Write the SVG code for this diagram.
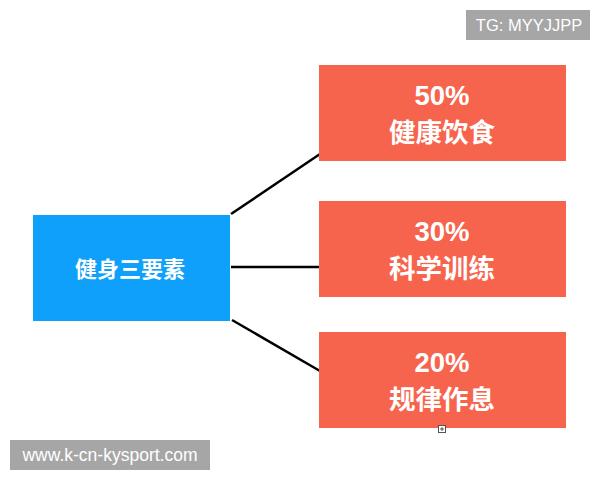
<svg xmlns="http://www.w3.org/2000/svg" width="600" height="480" viewBox="0 0 600 480">
<style>
.box{fill:#f7644d}
.t{font-family:"Liberation Sans","Noto Sans CJK SC",sans-serif;font-weight:bold;fill:#fff;text-anchor:middle}
.c{font-family:"Noto Sans CJK SC",sans-serif;font-weight:bold;fill:#fff;text-anchor:middle}
.wm{fill:#a6a6a6}
.wt{font-family:"Liberation Sans",sans-serif;fill:#fff;text-anchor:middle}
.ln{stroke:#000;stroke-width:2.5;fill:none}
</style>
<rect width="600" height="480" fill="#fff"/>
<g id="connectors">
<line class="ln" x1="231" y1="214" x2="320" y2="154"/>
<line class="ln" x1="231" y1="267" x2="320" y2="267"/>
<line class="ln" x1="232" y1="320" x2="320" y2="371"/>
</g>
<g id="root">
<rect x="33" y="215" width="197" height="106" fill="#0ea0fb"/>
<text class="c" x="130" y="277" font-size="22">健身三要素</text>
</g>
<g id="diet">
<rect class="box" x="319" y="65" width="247" height="96"/>
<text class="t" x="442" y="105" font-size="27.5">50%</text>
<text class="c" x="442" y="142" font-size="26.5">健康饮食</text>
</g>
<g id="training">
<rect class="box" x="319" y="201" width="247" height="96"/>
<text class="t" x="442" y="241" font-size="27.5">30%</text>
<text class="c" x="442" y="278" font-size="26.5">科学训练</text>
</g>
<g id="rest">
<rect class="box" x="319" y="332" width="247" height="96"/>
<text class="t" x="442" y="372" font-size="27.5">20%</text>
<text class="c" x="442" y="409" font-size="26.5">规律作息</text>
</g>
<g id="icon">
<rect x="438.5" y="425.5" width="7" height="7" fill="#fff" stroke="#555" stroke-width="1"/>
<path d="M440 429h4M442 427v4" stroke="#555" stroke-width="1"/>
</g>
<g id="wm-top">
<rect class="wm" x="466" y="10" width="124" height="30"/>
<text class="wt" x="529" y="31" font-size="16.5">TG: MYYJJPP</text>
</g>
<g id="wm-bottom">
<rect class="wm" x="10" y="440" width="200" height="30"/>
<text class="wt" x="110" y="461" font-size="17.5">www.k-cn-kysport.com</text>
</g>
</svg>
